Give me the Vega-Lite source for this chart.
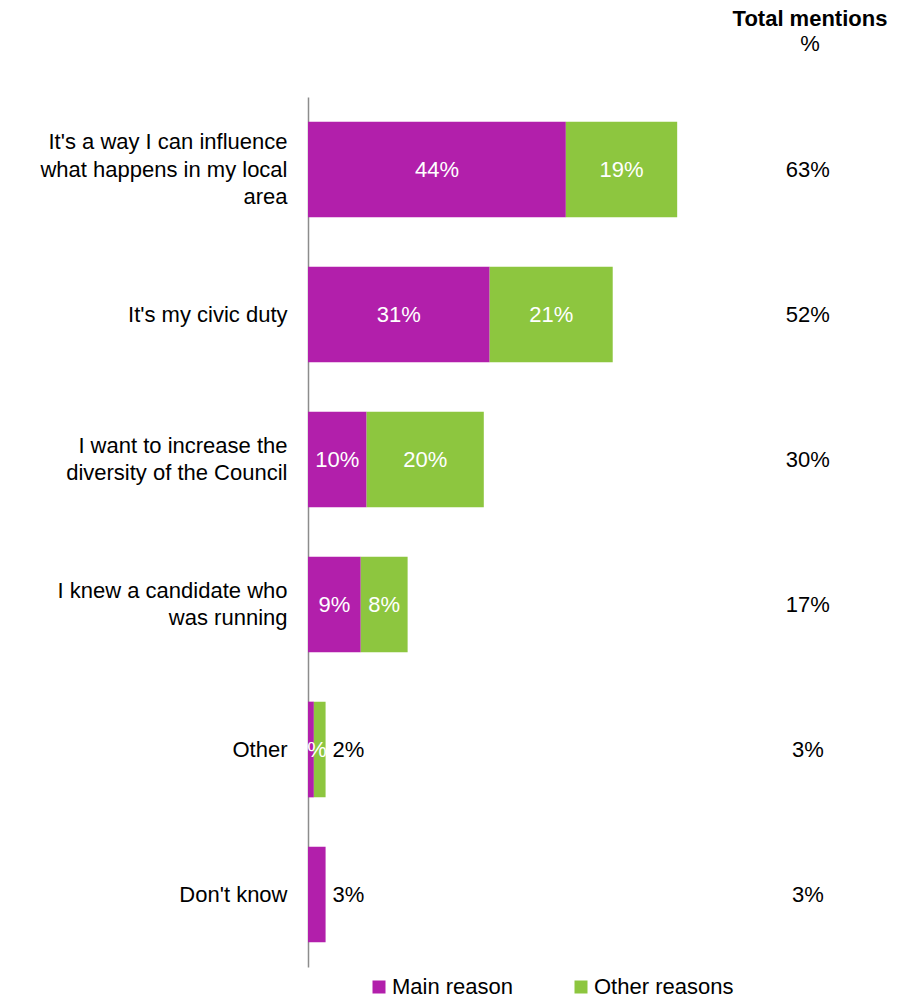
{
  "$schema": "https://vega.github.io/schema/vega-lite/v6.json",
  "autosize": {"type": "none"},
  "width": 586,
  "height": 870,
  "padding": {"left": 308, "top": 97, "right": 14, "bottom": 32},
  "background": "white",
  "config": {
    "font": "Liberation Sans",
    "view": {"stroke": null},
    "text": {"font": "Liberation Sans"}
  },
  "title": {
    "text": "Total mentions",
    "subtitle": "%",
    "anchor": "start",
    "align": "center",
    "frame": "group",
    "dx": 502,
    "offset": 41,
    "font": "Liberation Sans",
    "fontSize": 22,
    "fontWeight": "bold",
    "color": "black",
    "subtitleFont": "Liberation Sans",
    "subtitleFontSize": 22,
    "subtitleColor": "black",
    "subtitlePadding": 3
  },
  "data": {
    "values": [
      {"cat": "It's a way I can influence|what happens in my local|area", "series": "Main reason", "value": 44},
      {"cat": "It's a way I can influence|what happens in my local|area", "series": "Other reasons", "value": 19},
      {"cat": "It's my civic duty", "series": "Main reason", "value": 31},
      {"cat": "It's my civic duty", "series": "Other reasons", "value": 21},
      {"cat": "I want to increase the|diversity of the Council", "series": "Main reason", "value": 10},
      {"cat": "I want to increase the|diversity of the Council", "series": "Other reasons", "value": 20},
      {"cat": "I knew a candidate who|was running", "series": "Main reason", "value": 9},
      {"cat": "I knew a candidate who|was running", "series": "Other reasons", "value": 8},
      {"cat": "Other", "series": "Main reason", "value": 1},
      {"cat": "Other", "series": "Other reasons", "value": 2},
      {"cat": "Don't know", "series": "Main reason", "value": 3},
      {"cat": "Don't know", "series": "Other reasons", "value": 0}
    ]
  },
  "transform": [
    {"stack": "value", "groupby": ["cat"], "sort": [{"field": "series", "order": "ascending"}], "as": ["v0", "v1"]},
    {"joinaggregate": [{"op": "sum", "field": "value", "as": "total"}], "groupby": ["cat"]},
    {"calculate": "(datum.v0 + datum.v1) / 2", "as": "mid"},
    {"calculate": "datum.value + '%'", "as": "lab"},
    {"calculate": "datum.total + '%'", "as": "totlab"}
  ],
  "encoding": {
    "y": {
      "field": "cat",
      "type": "nominal",
      "sort": null,
      "scale": {"paddingInner": 0.34, "paddingOuter": 0.17},
      "axis": {
        "title": null,
        "ticks": false,
        "grid": false,
        "domainColor": "#8c8c8c",
        "domainWidth": 1.5,
        "labelFont": "Liberation Sans",
        "labelFontSize": 22,
        "labelColor": "black",
        "labelPadding": 21,
        "labelLineHeight": 27.5,
        "labelLimit": 400,
        "labelExpr": "split(datum.value, '|')",
        "labelOffset": {
          "condition": [
            {"test": "length(split(datum.value, '|')) == 3", "value": -27.5},
            {"test": "length(split(datum.value, '|')) == 2", "value": -13.75}
          ],
          "value": 0
        }
      }
    }
  },
  "layer": [
    {
      "mark": {"type": "bar"},
      "encoding": {
        "x": {"field": "v0", "type": "quantitative", "scale": {"domain": [0, 100]}, "axis": null},
        "x2": {"field": "v1"},
        "color": {
          "field": "series",
          "type": "nominal",
          "scale": {"domain": ["Main reason", "Other reasons"], "range": ["#B21FAB", "#8DC63F"]},
          "legend": {
            "title": null,
            "orient": "none",
            "direction": "horizontal",
            "legendX": 60,
            "legendY": 879,
            "symbolType": "square",
            "symbolSize": 169,
            "symbolStrokeWidth": 0,
            "labelFont": "Liberation Sans",
            "labelFontSize": 22,
            "labelColor": "black",
            "labelOffset": 2,
            "columnPadding": 56,
            "labelLimit": 300
          }
        }
      }
    },
    {
      "transform": [{"filter": "datum.value > 0 && !(datum.v1 == datum.total && datum.value < 5)"}],
      "mark": {"type": "text", "color": "white", "fontSize": 22, "align": "center", "baseline": "middle"},
      "encoding": {
        "x": {"field": "mid", "type": "quantitative"},
        "text": {"field": "lab"}
      }
    },
    {
      "transform": [{"filter": "datum.value > 0 && datum.v1 == datum.total && datum.value < 5"}],
      "mark": {"type": "text", "color": "black", "fontSize": 22, "align": "left", "baseline": "middle", "dx": 7},
      "encoding": {
        "x": {"field": "v1", "type": "quantitative"},
        "text": {"field": "lab"}
      }
    },
    {
      "transform": [{"filter": "datum.series == 'Main reason'"}],
      "mark": {"type": "text", "color": "black", "fontSize": 22, "align": "center", "baseline": "middle"},
      "encoding": {
        "x": {"datum": 85.3, "type": "quantitative"},
        "text": {"field": "totlab"}
      }
    }
  ]
}
